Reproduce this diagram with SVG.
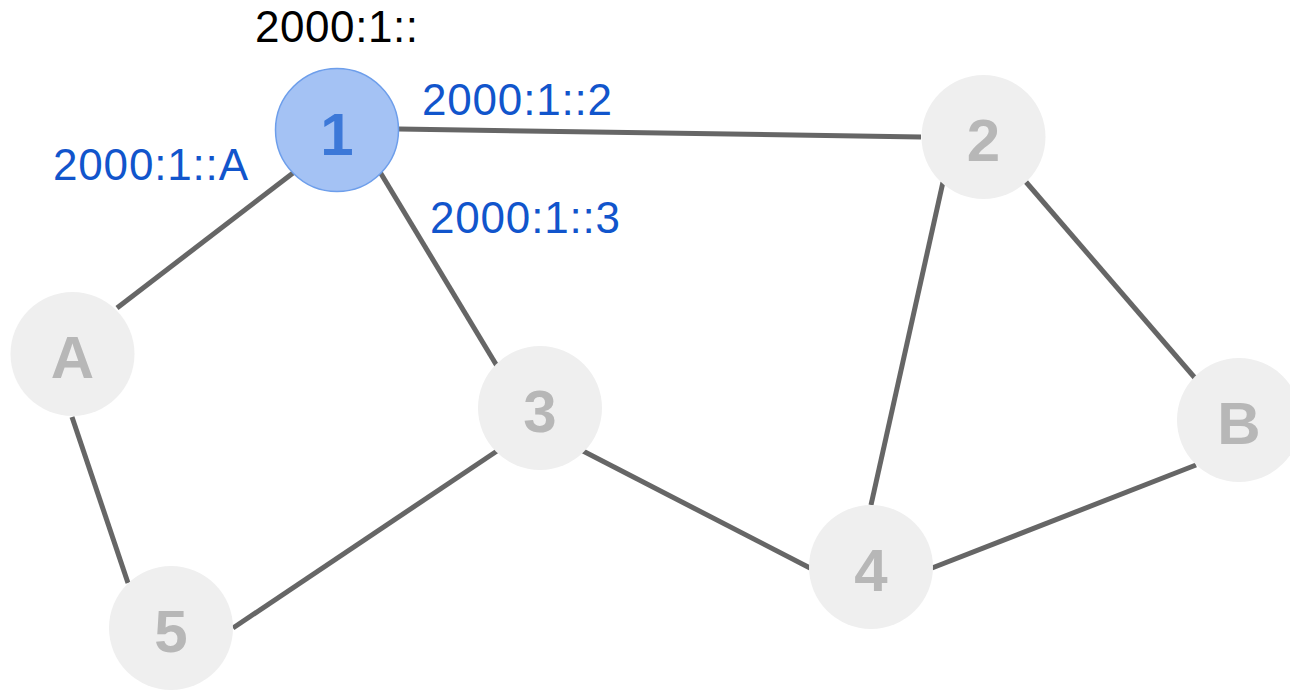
<svg xmlns="http://www.w3.org/2000/svg" width="1290" height="691" viewBox="0 0 1290 691">
<style>
.edge{stroke:#666666;stroke-width:5;fill:none}
.node circle{fill:#efefef}
.node text{font-family:"Liberation Sans",Arial,sans-serif;font-weight:bold;font-size:60px;fill:#b7b7b7;text-anchor:middle}
.lbl{font-family:"Liberation Sans",Arial,sans-serif;font-size:44px;fill:#1155cc}
</style>
<rect width="1290" height="691" fill="#ffffff"/>
<g id="connectors">
<line class="edge" x1="117" y1="308" x2="293" y2="173"/>
<line class="edge" x1="380" y1="172" x2="497" y2="366"/>
<line class="edge" x1="399" y1="129" x2="921" y2="137"/>
<line class="edge" x1="943" y1="182" x2="871" y2="505"/>
<line class="edge" x1="1026" y1="182" x2="1195" y2="378"/>
<line class="edge" x1="497" y1="451" x2="233" y2="628"/>
<line class="edge" x1="583" y1="451" x2="810" y2="568"/>
<line class="edge" x1="932" y1="568" x2="1196" y2="465"/>
<line class="edge" x1="72" y1="417" x2="128" y2="583"/>
</g>
<g id="node-1" class="node">
<circle cx="337" cy="130" r="61.5" style="fill:#a4c2f4;stroke:#6d9eeb;stroke-width:1.5"/>
<text x="337" y="155" style="fill:#3c78d8">1</text>
</g>
<g id="node-A" class="node"><circle cx="72.5" cy="354" r="62"/><text x="72.5" y="378">A</text></g>
<g id="node-5" class="node"><circle cx="171" cy="628" r="62"/><text x="171" y="652">5</text></g>
<g id="node-2" class="node"><circle cx="983.5" cy="137" r="62"/><text x="983.5" y="161">2</text></g>
<g id="node-B" class="node"><circle cx="1239" cy="420" r="62"/><text x="1239" y="444">B</text></g>
<g id="node-3" class="node"><circle cx="540" cy="408" r="62"/><text x="540" y="432">3</text></g>
<g id="node-4" class="node"><circle cx="871" cy="567" r="62"/><text x="871" y="591">4</text></g>
<g id="labels">
<text class="lbl" x="255" y="42" textLength="163" lengthAdjust="spacing" style="fill:#000000">2000:1::</text>
<text class="lbl" x="422" y="115" textLength="190" lengthAdjust="spacing">2000:1::2</text>
<text class="lbl" x="430" y="233" textLength="190" lengthAdjust="spacing">2000:1::3</text>
<text class="lbl" x="53" y="180" textLength="195" lengthAdjust="spacing">2000:1::A</text>
</g>
</svg>
